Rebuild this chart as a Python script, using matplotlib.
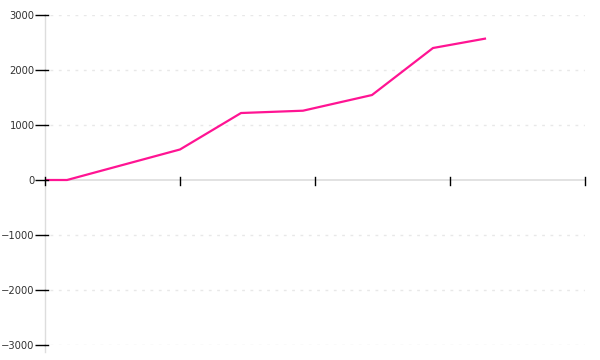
import matplotlib
matplotlib.use("Agg")
import matplotlib.pyplot as plt

x_vals = [0.0, 0.163, 1.0, 1.452, 1.911, 2.422, 2.874, 3.259]
y_vals = [0, 0, 555, 1218, 1260, 1545, 2400, 2570]
y_ticks = [-3000, -2000, -1000, 0, 1000, 2000, 3000]
x_ticks = [0, 1, 2, 3, 4]

fig = plt.figure(figsize=(6, 3.6), dpi=100)
ax = fig.add_axes([0.075, 0.0417, 0.9, 0.9166])
ax.set_xlim(0, 4)
ax.set_ylim(-3000, 3000)

for v in y_ticks:
    if v != 0:
        ax.axhline(v, color="#e8e8e8", lw=1, ls=(0, (2, 4)), zorder=0, xmin=0.01)

ax.plot(x_vals, y_vals, color="#ff1493", lw=1.6, zorder=3, solid_joinstyle="round")

for s in ["top", "right", "bottom", "left"]:
    ax.spines[s].set_visible(False)
ax.plot([0, 0], [3000, -3130], color="#dddddd", lw=1, clip_on=False, zorder=1)
ax.axhline(0, color="#dddddd", lw=1.2, zorder=1)

ax.set_yticks(y_ticks)
ax.set_yticklabels([str(v).replace("-", "\u2212") for v in y_ticks])
ax.tick_params(axis="y", direction="out", length=7, width=1, color="black",
               labelsize=7.2, labelcolor="#333333", pad=0.5)
for v in y_ticks:
    ax.plot([0, 0.02], [v, v], color="black", lw=1, clip_on=False, zorder=4)
ax.set_xticks(x_ticks)
ax.set_xticklabels([])
ax.tick_params(axis="x", direction="inout", length=0)
for t in x_ticks:
    ax.plot([t, t], [-90, 55], color="black", lw=1, clip_on=False, zorder=4)

fig.savefig("out.png", dpi=100)
